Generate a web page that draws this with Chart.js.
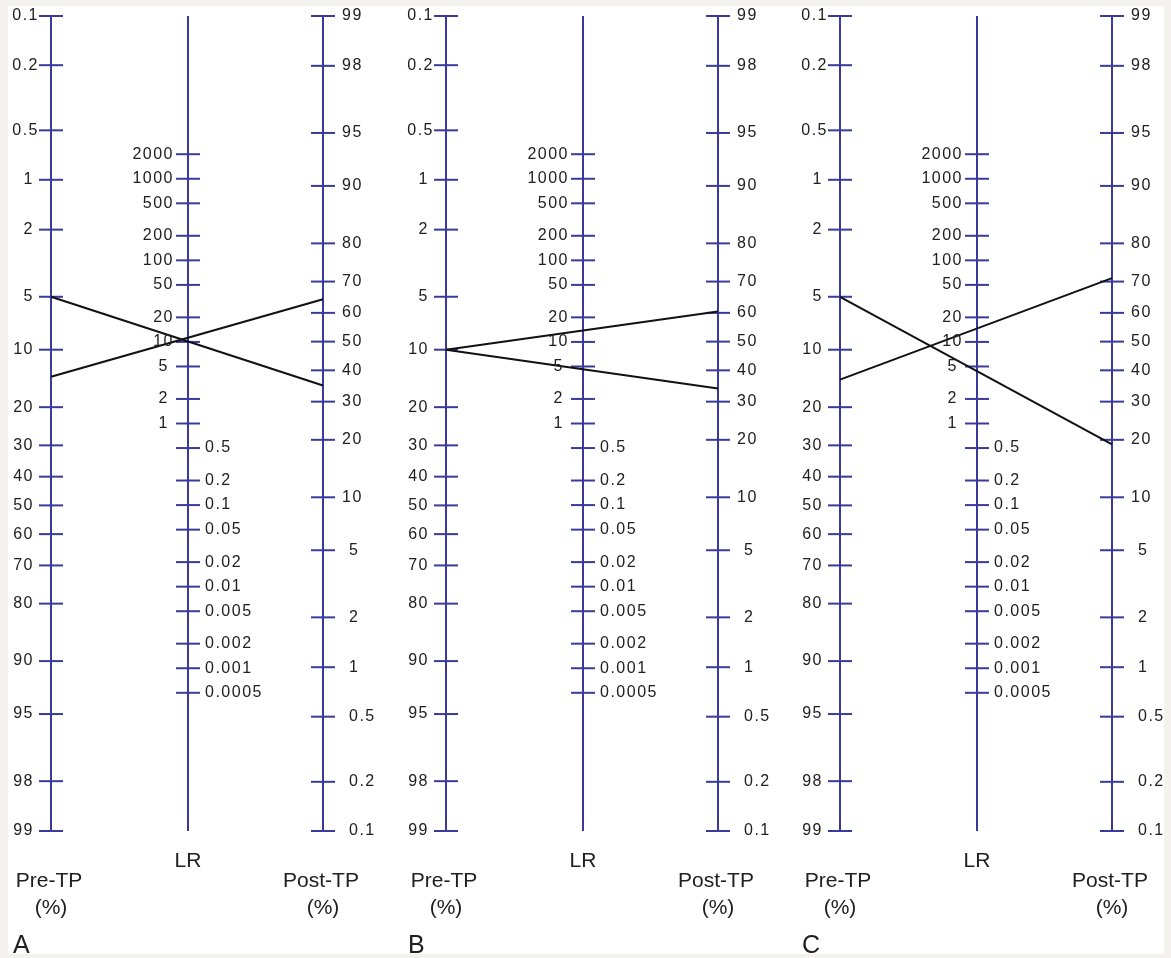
<!DOCTYPE html>
<html><head><meta charset="utf-8">
<script src="https://cdn.jsdelivr.net/npm/chart.js@4.4.1/dist/chart.umd.min.js"></script>
<style>html,body{margin:0;padding:0;background:#fff;overflow:hidden}canvas{display:block}</style>
</head><body>
<canvas id="c" width="1171" height="958" style="width:1171px;height:958px"></canvas>
<script>
// ---------- data ----------
const preTicks = [0.1, 0.2, 0.5, 1, 2, 5, 10, 20, 30, 40, 50, 60, 70, 80, 90, 95, 98, 99];
const postTicks = [99, 98, 95, 90, 80, 70, 60, 50, 40, 30, 20, 10, 5, 2, 1, 0.5, 0.2, 0.1];
const lrTicks = [2000, 1000, 500, 200, 100, 50, 20, 10, 5, 2, 1, 0.5, 0.2, 0.1, 0.05, 0.02, 0.01, 0.005, 0.002, 0.001, 0.0005];
const panelLetters = ['A', 'B', 'C'];
const axisTitles = ['Pre-TP', 'LR', 'Post-TP'];
const unitLabel = '(%)';
// pre-test probability (%) -> post-test probability (%) for each drawn line
const panelA_pre = [5, 14];
const panelA_post = [35, 64.5];
const panelB_pre = [10, 10];
const panelB_post = [60.5, 34];
const panelC_pre = [5, 14.5];
const panelC_post = [19, 71];

// ---------- layout ----------
const LAYOUT = {
  axisX: [[51, 188, 323], [446, 583, 718], [840, 977, 1112]],
  navy: '#3a3a9c',
  ink: '#202020'
};

const logit = p => Math.log(p / (1 - p));
const V_TOP = logit(0.001), V_BOT = logit(0.99), CST = V_TOP + V_BOT;
const vPre = p => logit(p / 100);
const vPost = q => CST - logit(q / 100);
const vLR = r => (CST - Math.log(r)) / 2;

const panels = [
  {pre: panelA_pre, post: panelA_post},
  {pre: panelB_pre, post: panelB_post},
  {pre: panelC_pre, post: panelC_post}
];

const datasets = [];
panels.forEach((pn, i) => {
  const [xa, xl, xb] = LAYOUT.axisX[i];
  [xa, xl, xb].forEach(x => {
    datasets.push({type: 'line', data: [{x, y: V_TOP}, {x, y: V_BOT}], borderColor: LAYOUT.navy,
      borderWidth: 2, pointRadius: 0, clip: false, order: 3});
  });
  datasets.push({type: 'scatter', data: preTicks.map(t => ({x: xa, y: vPre(t)})), pointStyle: 'line',
    pointRadius: 12, pointHoverRadius: 12, borderWidth: 2, borderColor: LAYOUT.navy, clip: false, order: 2});
  datasets.push({type: 'scatter', data: lrTicks.map(t => ({x: xl, y: vLR(t)})), pointStyle: 'line',
    pointRadius: 12, pointHoverRadius: 12, borderWidth: 2, borderColor: LAYOUT.navy, clip: false, order: 2});
  datasets.push({type: 'scatter', data: postTicks.map(t => ({x: xb, y: vPost(t)})), pointStyle: 'line',
    pointRadius: 12, pointHoverRadius: 12, borderWidth: 2, borderColor: LAYOUT.navy, clip: false, order: 2});
  pn.pre.forEach((p, k) => {
    datasets.push({type: 'line', data: [{x: xa, y: vPre(p)}, {x: xb, y: vPost(pn.post[k])}],
      borderColor: '#111', borderWidth: 2, pointRadius: 0, clip: false, order: 1});
  });
});

const labelPlugin = {
  id: 'nomoLabels',
  beforeDraw(chart) {
    const ctx = chart.ctx;
    ctx.save();
    ctx.fillStyle = '#f4f2ef';
    ctx.fillRect(0, 0, chart.width, chart.height);
    ctx.fillStyle = '#ffffff';
    ctx.fillRect(8, 6, 1156, 948);
    ctx.restore();
  },
  afterDatasetsDraw(chart) {
    const ctx = chart.ctx;
    const xs = chart.scales.x, ys = chart.scales.y;
    ctx.save();
    ctx.fillStyle = LAYOUT.ink;
    ctx.textBaseline = 'middle';
    ctx.font = '16px "Liberation Sans", Arial, sans-serif';
    try { ctx.letterSpacing = '1.5px'; } catch (e) {}
    const fmt = v => String(v);
    LAYOUT.axisX.forEach((ax, i) => {
      const pxA = xs.getPixelForValue(ax[0]);
      const pxL = xs.getPixelForValue(ax[1]);
      const pxB = xs.getPixelForValue(ax[2]);
      ctx.textAlign = 'right';
      preTicks.forEach(t => {
        const off = Number.isInteger(t) ? 17 : 12;
        ctx.fillText(fmt(t), pxA - off, ys.getPixelForValue(vPre(t)));
      });
      lrTicks.forEach(t => {
        if (t >= 1) {
          ctx.textAlign = 'right';
          const off = t < 10 ? 19 : 14;
          ctx.fillText(fmt(t), pxL - off, ys.getPixelForValue(vLR(t)));
        } else {
          ctx.textAlign = 'left';
          ctx.fillText(fmt(t), pxL + 17, ys.getPixelForValue(vLR(t)));
        }
      });
      ctx.textAlign = 'left';
      postTicks.forEach(t => {
        const off = (t >= 10) ? 19 : 26;
        ctx.fillText(fmt(t), pxB + off, ys.getPixelForValue(vPost(t)));
      });
    });
    try { ctx.letterSpacing = '0px'; } catch (e) {}
    ctx.textBaseline = 'alphabetic';
    ctx.textAlign = 'center';
    ctx.font = '21px "Liberation Sans", Arial, sans-serif';
    LAYOUT.axisX.forEach((ax, i) => {
      const pxA = xs.getPixelForValue(ax[0]);
      const pxL = xs.getPixelForValue(ax[1]);
      const pxB = xs.getPixelForValue(ax[2]);
      ctx.fillText(axisTitles[0], pxA - 2, 887);
      ctx.fillText(unitLabel, pxA, 914);
      ctx.fillText(axisTitles[1], pxL, 867);
      ctx.fillText(axisTitles[2], pxB - 2, 887);
      ctx.fillText(unitLabel, pxB, 914);
      ctx.textAlign = 'left';
      ctx.font = '25px "Liberation Sans", Arial, sans-serif';
      ctx.fillText(panelLetters[i], pxA - 38, 953);
      ctx.font = '21px "Liberation Sans", Arial, sans-serif';
      ctx.textAlign = 'center';
    });
    ctx.restore();
  }
};

new Chart(document.getElementById('c'), {
  type: 'scatter',
  data: {datasets},
  options: {
    responsive: false,
    animation: false,
    devicePixelRatio: 1,
    events: [],
    layout: {autoPadding: false, padding: {top: 16, bottom: 127, left: 0, right: 0}},
    plugins: {legend: {display: false}, tooltip: {enabled: false}},
    scales: {
      x: {type: 'linear', min: 0, max: 1171, display: false},
      y: {type: 'linear', min: V_TOP, max: V_BOT, reverse: true, display: false}
    }
  },
  plugins: [labelPlugin]
});
</script>
</body></html>
